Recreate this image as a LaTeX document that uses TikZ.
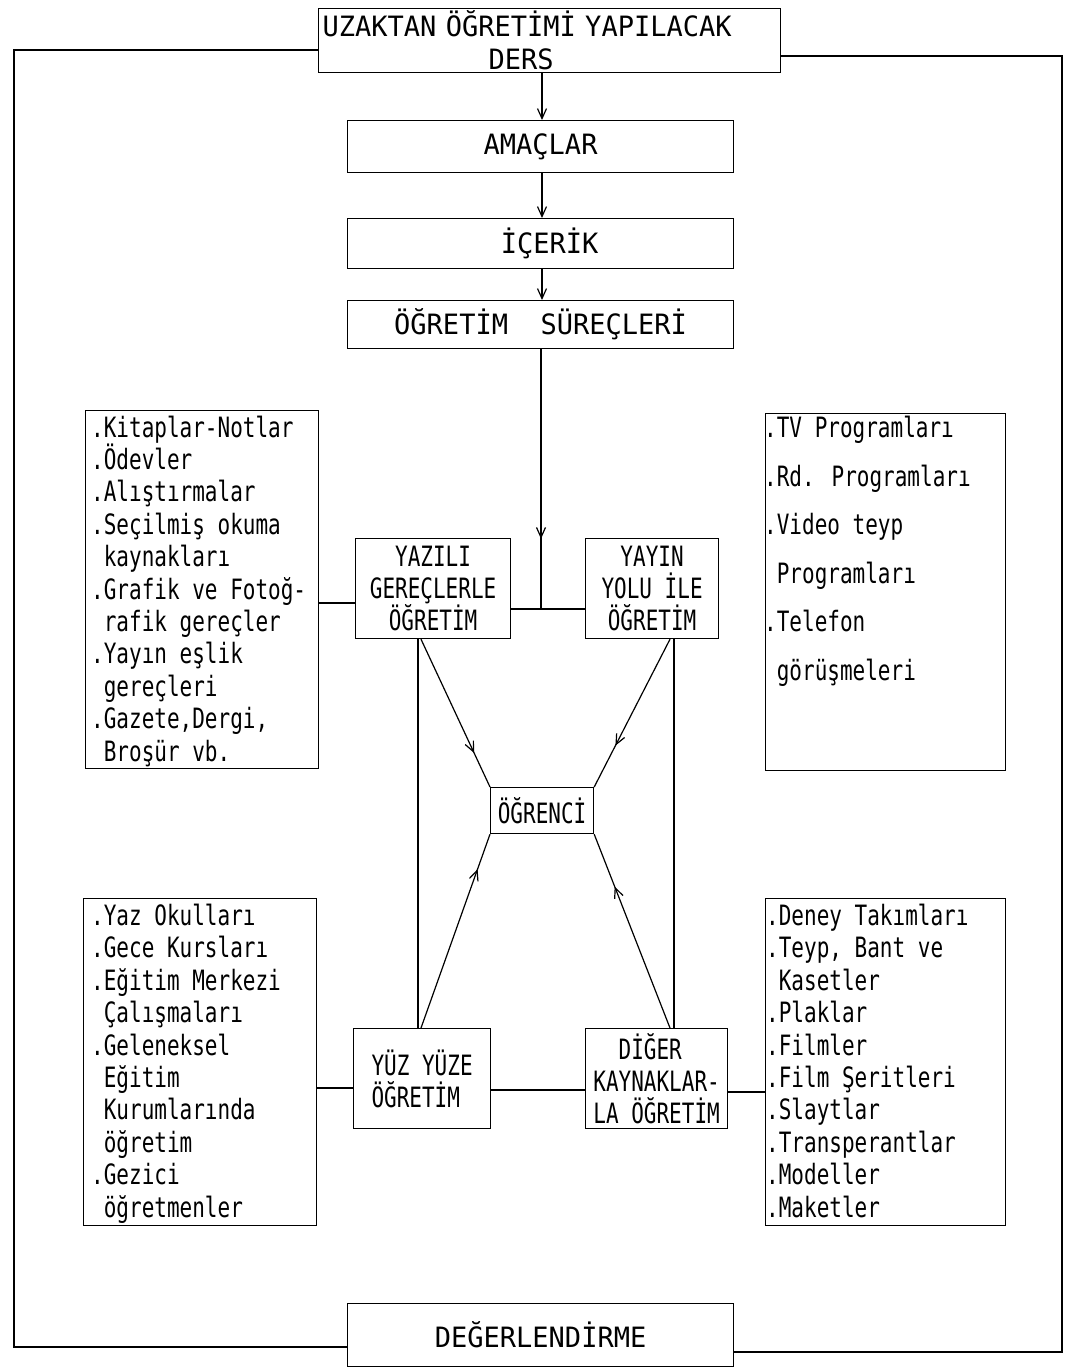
\documentclass[tikz,border=0pt]{standalone}
\usepackage{fontspec}
\newfontfamily\hdr{DejaVu Sans Mono}[FakeStretch=0.965]
\newfontfamily\lst{DejaVu Sans Mono}[FakeStretch=0.75]
\usetikzlibrary{arrows.meta,decorations.markings}
\tikzset{
  ln/.style={line width=1.2pt},
  box/.style={draw, line width=1.2pt, inner sep=0pt, anchor=north west},
  hbox/.style={box, font=\hdr\fontsize{28}{33}\selectfont},
  ibox/.style={box, font=\lst\fontsize{28}{32}\selectfont},
  lsttext/.style={anchor=base west, align=left, inner sep=0pt, font=\lst\fontsize{28}{32.4}\selectfont},
  tip/.style={-{Straight Barb[length=10pt,width=9pt]}},
  midarrow/.style={postaction={decorate}, decoration={markings, mark=at position #1 with {\arrow{Straight Barb[length=10pt,width=9pt]}}}}
}
\begin{document}
\begin{tikzpicture}[x=1pt,y=-1pt]
\useasboundingbox (0,0) rectangle (1071,1369);
\fill[white] (0,0) rectangle (1071,1369);

% top chain
\node[hbox, minimum width=462pt, minimum height=64pt, text width=454pt, inner xsep=4pt, align=left] (uz) at (318,8)
  {UZAKTAN ÖĞRETİMİ YAPILACAK\\\hspace*{166pt}DERS};
\node[hbox, minimum width=386pt, minimum height=52pt] (am) at (347,120) {AMAÇLAR};
\node[hbox, minimum width=386pt, minimum height=50pt] (ic) at (347,218) {\hspace*{18pt}İÇERİK};
\node[hbox, minimum width=386pt, minimum height=48pt] (su) at (347,300) {ÖĞRETİM~~SÜREÇLERİ};
\node[hbox, minimum width=386pt, minimum height=63pt] (de) at (347,1303) {DEĞERLENDİRME};

\coordinate (ax) at (542,0);
\draw[ln,tip] (uz.south -| ax) -- (am.north -| ax);
\draw[ln,tip] (am.south -| ax) -- (ic.north -| ax);
\draw[ln,tip] (ic.south -| ax) -- (su.north -| ax);

% middle boxes
\node[ibox, minimum width=155pt, minimum height=100pt, align=center] (yaz) at (355,538) {YAZILI\\GEREÇLERLE\\ÖĞRETİM};
\node[ibox, minimum width=133pt, minimum height=100pt, align=center] (yay) at (585,538) {YAYIN\\YOLU İLE\\ÖĞRETİM};
\node[ibox, minimum width=103pt, minimum height=46pt] (ogr) at (490,787) {ÖĞRENCİ};
\node[ibox, minimum width=137pt, minimum height=100pt, align=left] (yuz) at (353,1028) {YÜZ YÜZE\\ÖĞRETİM};
\node[ibox, minimum width=142pt, minimum height=100pt, align=left] (dig) at (585,1028) {~~DİĞER\\KAYNAKLAR-\\LA ÖĞRETİM};

% list boxes
\node[box, minimum width=233pt, minimum height=358pt] (tl) at (85,410) {};
\node[box, minimum width=240pt, minimum height=357pt] (tr) at (765,413) {};
\node[box, minimum width=233pt, minimum height=327pt] (bl) at (83,898) {};
\node[box, minimum width=240pt, minimum height=327pt] (br) at (765,898) {};

% (base anchor = baseline of the last line)
\node[lsttext] (tlt) at (91,761) {.Kitaplar-Notlar\\.Ödevler\\.Alıştırmalar\\.Seçilmiş okuma\\~kaynakları\\.Grafik ve Fotoğ-\\~rafik gereçler\\.Yayın eşlik\\~gereçleri\\.Gazete,Dergi,\\~Broşür vb.};
\node[lsttext, font=\lst\fontsize{28}{48.5}\selectfont] (trt) at (764,680) {.TV Programları\\.Rd. Programları\\.Video teyp\\~Programları\\.Telefon\\~görüşmeleri};
\node[lsttext] (blt) at (91,1217) {.Yaz Okulları\\.Gece Kursları\\.Eğitim Merkezi\\~Çalışmaları\\.Geleneksel\\~Eğitim\\~Kurumlarında\\~öğretim\\.Gezici\\~öğretmenler};
\node[lsttext] (brt) at (766,1217) {.Deney Takımları\\.Teyp, Bant ve\\~Kasetler\\.Plaklar\\.Filmler\\.Film Şeritleri\\.Slaytlar\\.Transperantlar\\.Modeller\\.Maketler};

% connectors in the middle
\coordinate (j) at (541,609);
\draw[ln,midarrow=0.73] (su.south -| j) -- (j);
\draw[ln] (yaz.east |- j) -- (yay.west |- j);
\coordinate (lc) at (0,603);
\draw[ln] (tl.east |- lc) -- (yaz.west |- lc);
\coordinate (bc) at (0,1090);
\draw[ln] (yuz.east |- bc) -- (dig.west |- bc);
\coordinate (blc) at (0,1088);
\draw[ln] (bl.east |- blc) -- (yuz.west |- blc);
\coordinate (brc) at (0,1092);
\draw[ln] (dig.east |- brc) -- (br.west |- brc);

\coordinate (lv) at (418,0);
\coordinate (ld) at (421,0);
\coordinate (rv) at (674,0);
\coordinate (rd) at (670,0);
\draw[ln] (yaz.south -| lv) -- (yuz.north -| lv);
\draw[ln] (yay.south -| rv) -- (dig.north -| rv);
\draw[ln,midarrow=0.77] (yaz.south -| ld) -- (ogr.north west);
\draw[ln,midarrow=0.72] (yay.south -| rd) -- (ogr.north east);
\draw[ln,midarrow=0.82] (yuz.north -| ld) -- (ogr.south west);
\draw[ln,midarrow=0.73] (dig.north -| rd) -- (ogr.south east);

% feedback loop
\coordinate (lb) at (14,1347);
\coordinate (lt) at (14,50);
\coordinate (rb) at (1062,1352);
\coordinate (rt) at (1062,56);
\draw[ln] (de.west |- lb) -- (lb) -- (lt) -- (uz.west |- lt);
\draw[ln] (de.east |- rb) -- (rb) -- (rt) -- (uz.east |- rt);
\end{tikzpicture}
\end{document}
